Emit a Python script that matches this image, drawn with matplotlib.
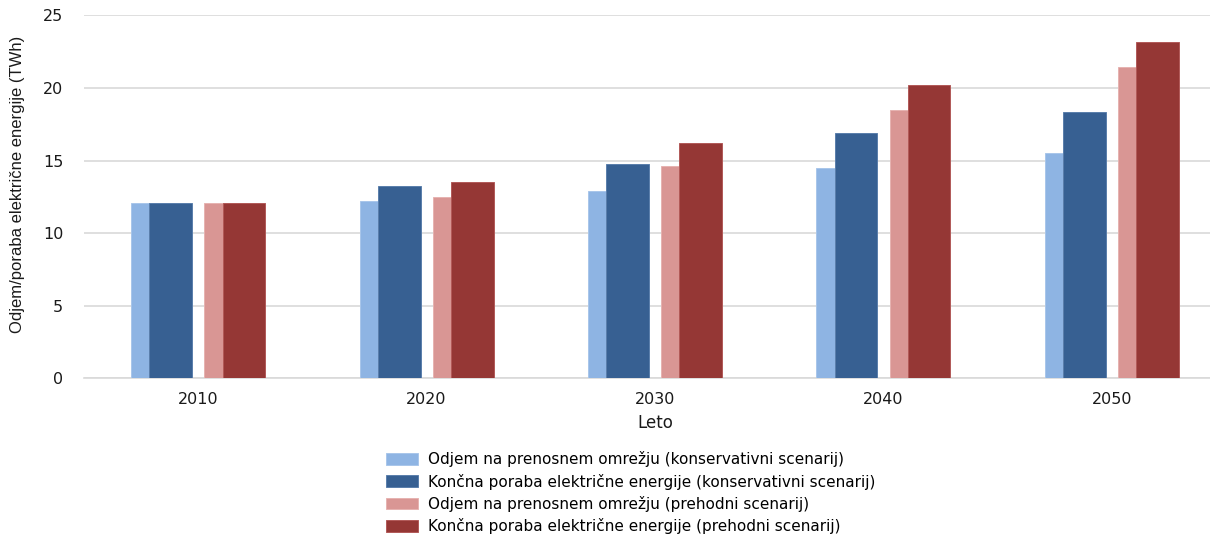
import matplotlib
matplotlib.use("Agg")
import matplotlib.pyplot as plt
import numpy as np

plt.rcParams["font.family"] = ["DejaVu Sans"]

# Electricity demand projections (TWh)
years = ["2010", "2020", "2030", "2040", "2050"]
odjem_kons = [12.05, 12.18, 12.9, 14.46, 15.53]
poraba_kons = [12.07, 13.27, 14.74, 16.86, 18.36]
odjem_preh = [12.05, 12.49, 14.6, 18.45, 21.46]
poraba_preh = [12.08, 13.53, 16.19, 20.17, 23.16]

series_labels = [
    "Odjem na prenosnem omrežju (konservativni scenarij)",
    "Končna poraba električne energije (konservativni scenarij)",
    "Odjem na prenosnem omrežju (prehodni scenarij)",
    "Končna poraba električne energije (prehodni scenarij)",
]
y_ticks = [0, 5, 10, 15, 20, 25]

colors = ["#8EB4E3", "#376092", "#D99694", "#953735"]
edges = ["#a9c6ea", "#5b7fac", "#e6b3b1", "#b25a58"]
offsets = [-0.20, -0.12, 0.121, 0.20]
width = 0.187

W, H = 1210, 534
fig = plt.figure(figsize=(W / 100, H / 100), dpi=100)
ax_left, ax_right, ax_bottom, ax_top = 84, 1226, 378.3, 15.3
ax = fig.add_axes([ax_left / W, 1 - ax_bottom / H,
                   (ax_right - ax_left) / W, (ax_bottom - ax_top) / H])

x = np.arange(len(years))
handles = []
for vals, off, c, ec, lab in zip([odjem_kons, poraba_kons, odjem_preh, poraba_preh],
                                 offsets, colors, edges, series_labels):
    b = ax.bar(x + off, vals, width, color=c, edgecolor=ec, linewidth=0.7,
               label=lab, zorder=3)
    handles.append(b)

ax.set_xlim(-0.5, len(years) - 0.5)
ax.set_ylim(0, 25)
ax.set_yticks(y_ticks)
ax.set_xticks(x)
ax.set_xticklabels(years)
ax.grid(axis="y", color="#d9d9d9", linewidth=1.2, zorder=0)
for side in ["top", "right", "left"]:
    ax.spines[side].set_visible(False)
ax.spines["bottom"].set_color("#d9d9d9")
ax.spines["bottom"].set_linewidth(1.2)
ax.tick_params(axis="both", length=0, labelsize=11.5, colors="#1a1a1a")
ax.tick_params(axis="y", pad=15)
ax.tick_params(axis="x", pad=10)

ax.set_xlabel("Leto", fontsize=12, color="#1a1a1a", labelpad=5)
ax.set_ylabel("Odjem/poraba električne energije (TWh)", fontsize=12,
              family=["Liberation Sans Narrow", "Liberation Sans"],
              color="#1a1a1a")
ax.yaxis.set_label_coords((25 - ax_left) / (ax_right - ax_left),
                          (ax_bottom - 184.5) / (ax_bottom - ax_top))

fig.legend(handles=handles, loc="upper left",
           bbox_to_anchor=(380 / W, 1 - 445 / H), frameon=False,
           fontsize=11, handlelength=2.1, handleheight=0.8,
           handletextpad=0.65, labelspacing=0.42, borderaxespad=0)

fig.savefig("out.png", dpi=100)
